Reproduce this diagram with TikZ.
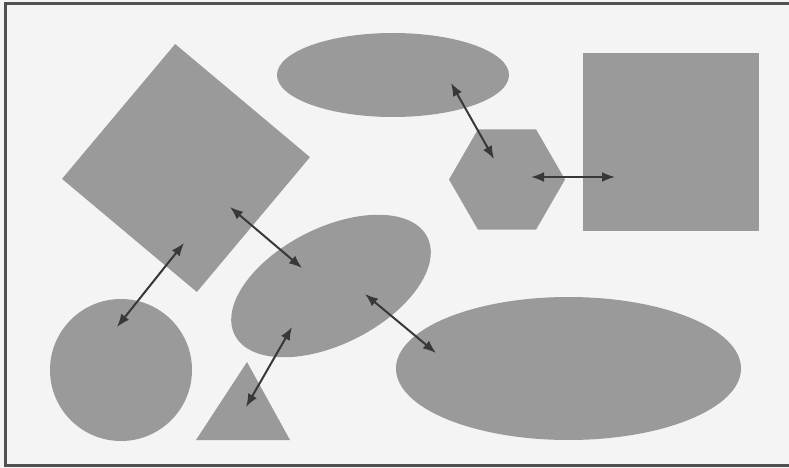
\documentclass[tikz,border=0pt]{standalone}
\usetikzlibrary{shapes.geometric,arrows.meta}
\definecolor{shapegray}{HTML}{9A9A9A}
\definecolor{bg}{HTML}{F4F4F4}
\definecolor{conncol}{HTML}{383838}
\definecolor{framecol}{HTML}{505050}
\begin{document}
\begin{tikzpicture}[x=1pt,y=-1pt,
  blob/.style={fill=shapegray, draw=none, inner sep=0pt, outer sep=0pt},
  oval/.style={blob, ellipse},
  conn/.style={draw=conncol, line width=2pt,
    {Latex[length=13pt,width=10pt]}-{Latex[length=13pt,width=10pt]}}]
\useasboundingbox (0,0) rectangle (789,468);
\fill[bg] (0,0) rectangle (789,468);
\draw[framecol, line width=3pt] (800,4) -- (5,4) -- (5,465) -- (800,465);

% shapes
\node[blob, rectangle, minimum size=176pt, rotate=50] (diam) at (186,168) {};
\node[oval, minimum width=232pt, minimum height=84pt] (topoval) at (393,75) {};
\node[blob, regular polygon, regular polygon sides=6, minimum size=116pt] (hex) at (507,179.5) {};
\node[blob, rectangle, minimum width=176pt, minimum height=178pt] (rect) at (671,142) {};
\node[oval, minimum width=216pt, minimum height=116pt, rotate=27] (midoval) at (331,286) {};
\node[blob, circle, minimum size=142pt] (circ) at (121,370) {};
\node[oval, minimum width=345pt, minimum height=143pt] (bigoval) at (568.5,368.5) {};
\fill[shapegray] (247,362) -- (196,440) -- (290,440) -- cycle;

% connector end points
\coordinate (dA) at (184,243);
\coordinate (cA) at (117,327);
\coordinate (dB) at (230,207);
\coordinate (mA) at (302,268);
\coordinate (mB) at (292,327);
\coordinate (tA) at (246,407);
\coordinate (mC) at (365,294);
\coordinate (bA) at (436,353);
\coordinate (oA) at (451,83);
\coordinate (hA) at (494,159);
\coordinate (hB) at (531,177);
\coordinate (rA) at (615,177);

% connectors
\draw[conn] (dA) -- (cA);
\draw[conn] (dB) -- (mA);
\draw[conn] (mB) -- (tA);
\draw[conn] (mC) -- (bA);
\draw[conn] (oA) -- (hA);
\draw[conn] (hB) -- (rA);
\end{tikzpicture}
\end{document}
